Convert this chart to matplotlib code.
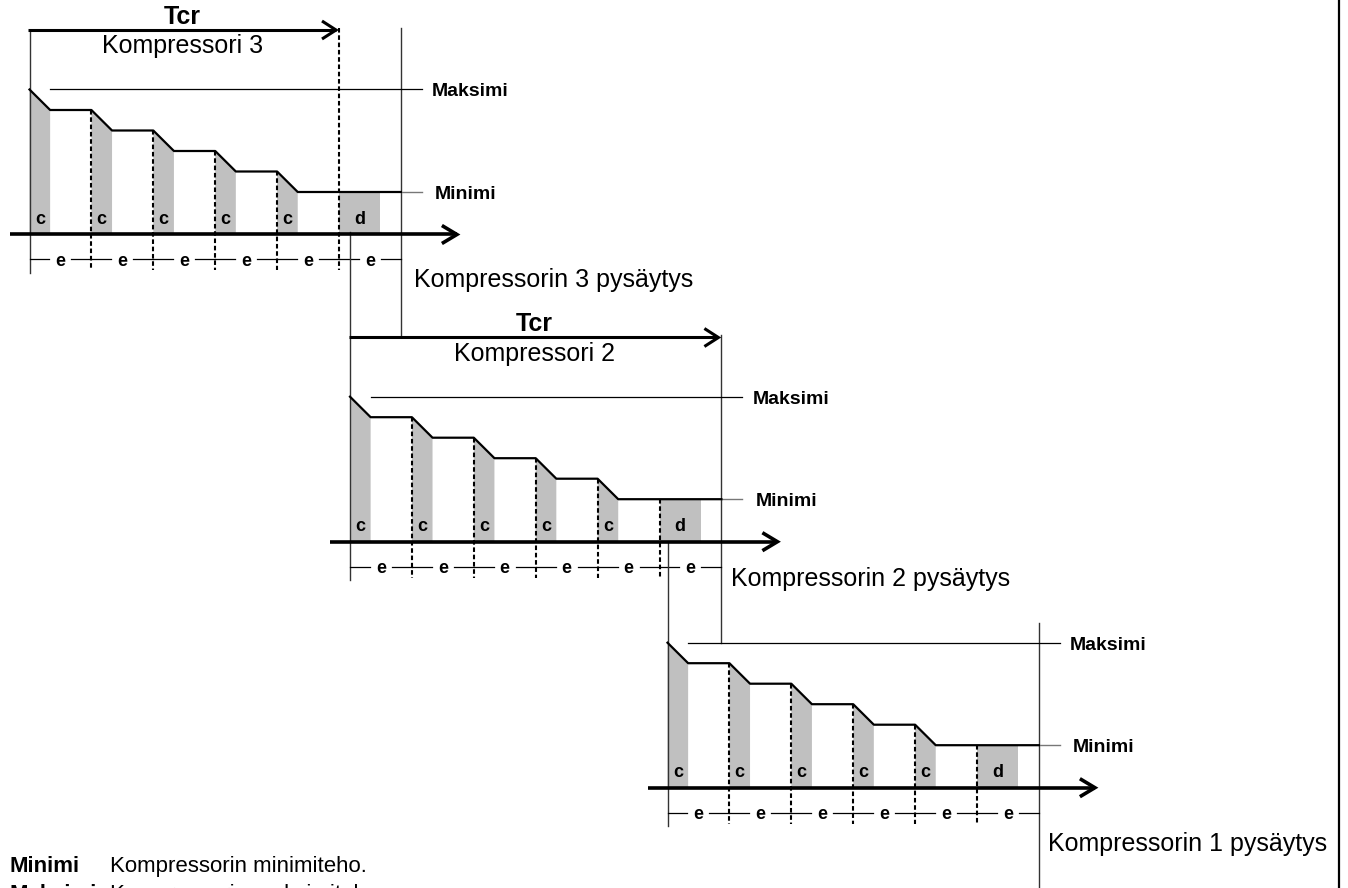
import matplotlib.pyplot as plt

plt.rcParams['font.family'] = ['Liberation Sans', 'DejaVu Sans']

# ------------------------
# Data
# ------------------------

# capacity steps (%) from Maksimi down to Minimi
cap_levels = [100, 90, 80, 70, 60, 50]
n_cycles = 6            # number of "e" intervals per compressor
c_len = 1 / 3           # ramp time "c" (fraction of e)
d_len = 2 / 3           # hold time "d" at Minimi before stop
tcr_cycles = [5, 6, None]
comp_names = ['Kompressori 3', 'Kompressori 2', None]
stop_labels = ['Kompressorin 3 pysäytys', 'Kompressorin 2 pysäytys',
               'Kompressorin 1 pysäytys']

legend_keys = ['Minimi', 'Maksimi']
legend_text = ['Kompressorin minimiteho.', 'Kompressorin maksimiteho.']

# ------------------------
# Layout (pixel space)
# ------------------------

E_PX = 61.9       # px per e interval
PCT_PX = 2.05     # px per capacity %
MIN_H = 42.5      # height of Minimi above the time axis

panels = [
    dict(x0=29.5, y0=234.5, left_top=30, right_top=28, right_bot=336,
         stop_dx=13, stop_dy=52),
    dict(x0=350, y0=541.7, left_top=232.5, right_top=335, right_bot=643,
         stop_dx=10, stop_dy=44.5),
    dict(x0=667.5, y0=787.7, left_top=541.7, right_top=622.7, right_bot=888,
         stop_dx=9, stop_dy=63),
]

GRAY = '#c0c0c0'
DASH = (0, (2.2, 1.3))


def px(p, t):
    return p['x0'] + t * E_PX


def py(p, cap):
    return p['y0'] - (MIN_H + (cap - cap_levels[-1]) * PCT_PX)


def arrow(ax, x0, x1, y, lw, hl, hw):
    ax.plot([x0, x1], [y, y], color='k', lw=lw, solid_capstyle='butt', zorder=5)
    ax.plot([x1 - hl, x1, x1 - hl], [y - hw, y, y + hw], color='k', lw=lw,
            solid_joinstyle='miter', solid_capstyle='butt', zorder=5)


fig = plt.figure(figsize=(13.48, 8.88), dpi=100)
ax = fig.add_axes([0, 0, 1, 1])
ax.set_xlim(0, 1348)
ax.set_ylim(888, 0)
ax.axis('off')

for i, p in enumerate(panels):
    x_end = px(p, n_cycles)
    y_ax = p['y0']
    y_max = py(p, cap_levels[0])
    y_min = py(p, cap_levels[-1])

    # capacity profile
    xs, ys = [px(p, 0)], [y_max]
    for k in range(len(cap_levels) - 1):
        if k > 0:
            xs.append(px(p, k))
            ys.append(py(p, cap_levels[k]))
        xs.append(px(p, k + c_len))
        ys.append(py(p, cap_levels[k + 1]))
    xs.append(x_end)
    ys.append(y_min)
    ax.plot(xs, ys, color='k', lw=1.6, zorder=4)

    # gray c ramps
    for k in range(len(cap_levels) - 1):
        xa, xb = px(p, k), px(p, k + c_len)
        ax.fill([xa, xa, xb, xb],
                [y_ax, py(p, cap_levels[k]), py(p, cap_levels[k + 1]), y_ax],
                color=GRAY, lw=0, zorder=1)
        ax.text((xa + xb) / 2, y_ax - 10.5, 'c', ha='center', va='baseline',
                fontsize=13, fontweight='bold', zorder=6)

    # gray d hold
    xa, xb = px(p, n_cycles - 1), px(p, n_cycles - 1 + d_len)
    ax.fill([xa, xa, xb, xb], [y_ax, y_min, y_min, y_ax], color=GRAY, lw=0, zorder=1)
    ax.text((xa + xb) / 2, y_ax - 10.5, 'd', ha='center', va='baseline',
            fontsize=13, fontweight='bold', zorder=6)

    # dashed step boundaries
    for k in range(1, n_cycles):
        top = py(p, cap_levels[k]) if k < len(cap_levels) else y_min
        if k == n_cycles - 1:
            top = y_min
        if tcr_cycles[i] == k:
            top = p['right_top']
        ax.plot([px(p, k), px(p, k)], [top, y_ax + 36], color='k', lw=1.5,
                linestyle=DASH, zorder=3)

    # left and right boundary lines
    ax.plot([px(p, 0)] * 2, [p['left_top'], y_ax + 38.5], color='#333333', lw=1.0, zorder=2)
    ax.plot([x_end] * 2, [p['right_top'], p['right_bot']], color='#333333', lw=1.0, zorder=2)

    # Maksimi / Minimi reference lines
    ax.plot([px(p, c_len), x_end + 21], [y_max, y_max], color='k', lw=0.9, zorder=2)
    ax.plot([x_end, x_end + 21], [y_min, y_min], color='#777777', lw=1.0, zorder=2)
    ax.text(x_end + 31, y_max + 7, 'Maksimi', ha='left', va='baseline',
            fontsize=14, fontweight='bold')
    ax.text(x_end + 34, y_min + 7, 'Minimi', ha='left', va='baseline',
            fontsize=14, fontweight='bold')

    # time axis
    arrow(ax, px(p, 0) - 20, x_end + 56, y_ax, 2.6, 15, 9)

    # e intervals
    y_e = y_ax + 25
    for k in range(n_cycles):
        xc = px(p, k + 0.5)
        ax.plot([px(p, k), xc - 11], [y_e, y_e], color='k', lw=0.9, zorder=2)
        ax.plot([xc + 11, px(p, k + 1)], [y_e, y_e], color='k', lw=0.9, zorder=2)
        ax.text(xc, y_ax + 31.5, 'e', ha='center', va='baseline',
                fontsize=13, fontweight='bold')

    # Tcr arrow
    if tcr_cycles[i] is not None:
        y_t = p['left_top'] if i == 0 else panels[i - 1]['right_bot'] + 1.5
        x_tip = px(p, tcr_cycles[i]) - 3
        arrow(ax, px(p, 0) - 1.5, x_tip, y_t, 2.2, 14, 9)
        xm = (px(p, 0) + x_tip) / 2
        ax.text(xm, y_t - 6.5, 'Tcr', ha='center', va='baseline',
                fontsize=18, fontweight='bold')
        ax.text(xm, y_t + 23.5, comp_names[i], ha='center', va='baseline',
                fontsize=18)

    # stop label
    ax.text(x_end + p['stop_dx'], y_ax + p['stop_dy'], stop_labels[i],
            ha='left', va='baseline', fontsize=18)

# right border
ax.plot([1339, 1339], [0, 888], color='k', lw=1.6)

# legend text at the bottom
for j, (key, txt) in enumerate(zip(legend_keys, legend_text)):
    yb = 871.7 + 28 * j
    ax.text(9.3, yb, key, ha='left', va='baseline', fontsize=16, fontweight='bold')
    ax.text(110, yb, txt, ha='left', va='baseline', fontsize=16)

fig.savefig('out.png', dpi=100)
